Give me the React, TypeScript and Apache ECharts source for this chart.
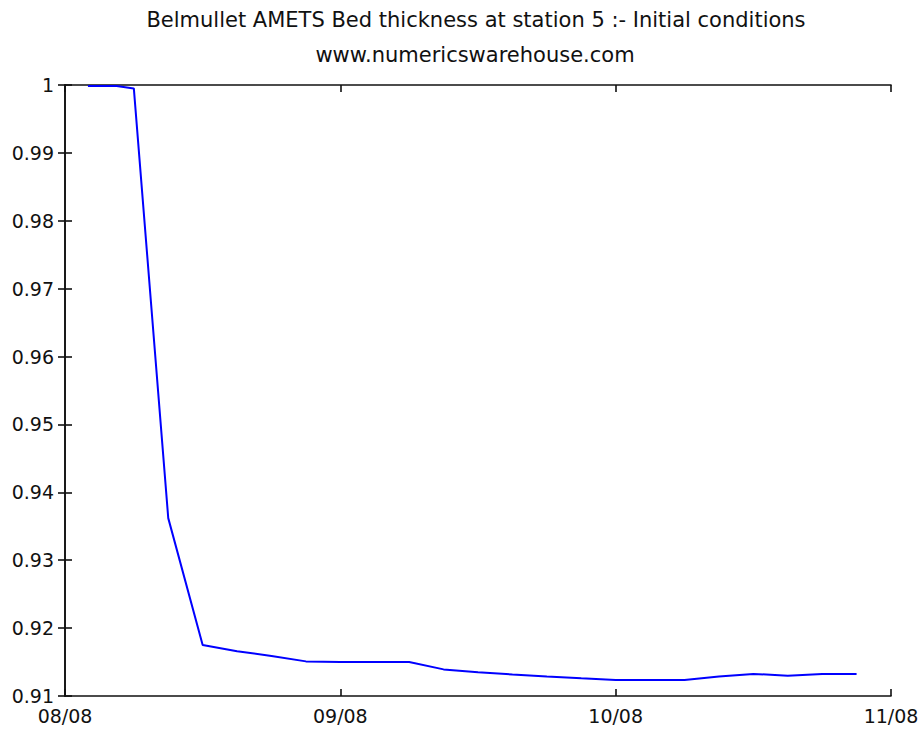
import React, { useEffect, useRef } from "react";
import * as echarts from "echarts";

// hours since 08/08 00:00
const hours = [2, 4.5, 6, 9, 12, 15, 18, 21, 24, 27, 30, 33, 36, 39, 42, 45, 48, 51, 54, 57, 60, 63, 66, 69];
const bedThickness = [
  0.99985, 0.99985, 0.9995, 0.9362, 0.9175, 0.9166, 0.9159, 0.9151, 0.915, 0.915, 0.915,
  0.91392, 0.9135, 0.91318, 0.91288, 0.9126, 0.91237, 0.91237, 0.91237, 0.91288, 0.91325,
  0.913, 0.91325, 0.91325,
];
const xTickLabels = ["08/08", "09/08", "10/08", "11/08"];
const titleLines = ["Belmullet AMETS Bed thickness at station 5 :- Initial conditions", "www.numericswarehouse.com"];

const FONT = "DejaVu Sans";

export default function App() {
  const ref = useRef<HTMLDivElement>(null);
  useEffect(() => {
    if (!ref.current) return;
    const chart = echarts.init(ref.current, null, { renderer: "svg" });
    const axisLine = { show: true, lineStyle: { color: "#111", width: 1.6 } };
    const tick = { show: true, inside: true, length: 7, lineStyle: { color: "#111", width: 1.6 } };
    const label = { color: "#111", fontFamily: FONT, fontSize: 19 };
    chart.setOption({
      animation: false,
      backgroundColor: "#fff",
      grid: { left: 65, right: 31, top: 85, bottom: 37, containLabel: false },
      graphic: [
        {
          type: "text",
          x: 476,
          y: 20,
          style: { text: titleLines[0], textAlign: "center", textVerticalAlign: "middle", fontFamily: FONT, fontSize: 21, fill: "#111" },
        },
        {
          type: "text",
          x: 475,
          y: 55,
          style: { text: titleLines[1], textAlign: "center", textVerticalAlign: "middle", fontFamily: FONT, fontSize: 21, fill: "#111" },
        },
      ],
      xAxis: [
        {
          type: "value",
          min: 0,
          max: 72,
          interval: 24,
          axisLine,
          axisTick: tick,
          splitLine: { show: false },
          axisLabel: {
            ...label,
            margin: 10,
            formatter: (v: number) => xTickLabels[Math.round(v / 24)] ?? "",
          },
        },
        {
          type: "value",
          position: "top",
          min: 0,
          max: 72,
          interval: 24,
          axisLine,
          axisTick: tick,
          splitLine: { show: false },
          axisLabel: { show: false },
        },
      ],
      yAxis: [
        {
          type: "value",
          min: 0.91,
          max: 1,
          interval: 0.01,
          axisLine,
          axisTick: tick,
          splitLine: { show: false },
          axisLabel: {
            ...label,
            margin: 11,
            formatter: (v: number) => String(parseFloat(v.toFixed(2))),
          },
        },
        {
          type: "value",
          position: "right",
          min: 0.91,
          max: 1,
          interval: 0.01,
          axisLine,
          axisTick: tick,
          splitLine: { show: false },
          axisLabel: { show: false },
        },
      ],
      series: [
        {
          type: "line",
          data: hours.map((h, i) => [h, bedThickness[i]]),
          showSymbol: false,
          lineStyle: { color: "#0000ff", width: 2 },
          itemStyle: { color: "#0000ff" },
        },
      ],
    });
    return () => chart.dispose();
  }, []);
  return <div ref={ref} style={{ position: "fixed", left: 0, top: 0, width: 922, height: 733 }} />;
}
